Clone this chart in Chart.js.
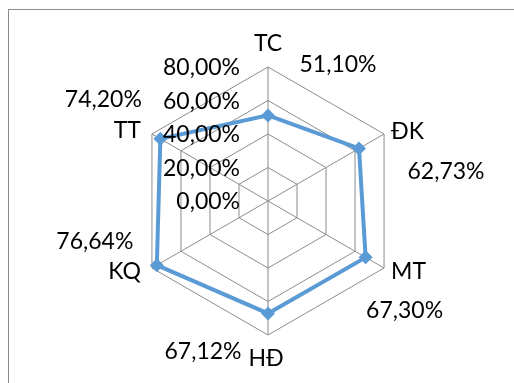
<!DOCTYPE html>
<html>
<head>
<meta charset="utf-8">
<script src="https://cdn.jsdelivr.net/npm/chart.js@4.4.0/dist/chart.umd.min.js"></script>
<style>
  html, body { margin: 0; padding: 0; background: #fff; overflow: hidden; }
  #wrap { position: relative; width: 514px; height: 383px; }
  #frame { position: absolute; left: 8px; top: 9px; width: 520px; height: 400px; border: 1px solid #8c8c8c; box-sizing: border-box; }
  canvas { position: absolute; left: 0; top: 0; }
</style>
</head>
<body>
<div id="wrap">
  <div id="frame"></div>
  <canvas id="chart-radar" width="514" height="383"></canvas>
</div>
<script>
// dữ liệu
const categories = ["TC", "ĐK", "MT", "HĐ", "KQ", "TT"];
const values = [0.5110, 0.6273, 0.6730, 0.6712, 0.7664, 0.7420];
const valueLabels = ["51,10%", "62,73%", "67,30%", "67,12%", "76,64%", "74,20%"];
const tickValues = [0, 0.2, 0.4, 0.6, 0.8];
const tickLabels = ["0,00%", "20,00%", "40,00%", "60,00%", "80,00%"];

// vị trí nhãn (lệch so với điểm / đỉnh)
const valueOffsets = [[70, -51], [87, 23], [39, 53], [-65, 38], [-62, -24], [-57, -39]];
const catOffsets = [[0, -23, "center"], [7, -2, "left"], [7, 4, "left"], [-2, 24, "center"], [-11, 4, "right"], [-11, -3, "right"]];

const FONT = "23px Lato";

const labelPlugin = {
    id: "labels",
    afterDatasetsDraw(chart) {
        const ctx = chart.ctx;
        const scale = chart.scales.r;
        const meta = chart.getDatasetMeta(0);
        ctx.save();
        ctx.font = FONT;
        ctx.fillStyle = "#000";
        ctx.textBaseline = "middle";

        // nhãn trục giá trị
        ctx.textAlign = "right";
        tickValues.forEach((v, i) => {
            const p = scale.getPointPositionForValue(0, v);
            ctx.fillText(tickLabels[i], scale.xCenter - 28, p.y + 1);
        });

        // tên các trục
        categories.forEach((c, i) => {
            const p = scale.getPointPositionForValue(i, scale.max);
            const o = catOffsets[i];
            ctx.textAlign = o[2];
            ctx.fillText(c, p.x + o[0], p.y + o[1]);
        });

        // nhãn dữ liệu
        ctx.textAlign = "center";
        meta.data.forEach((pt, i) => {
            const o = valueOffsets[i];
            ctx.fillText(valueLabels[i], pt.x + o[0], pt.y + o[1]);
        });
        ctx.restore();
    }
};

new Chart(document.getElementById("chart-radar").getContext("2d"), {
    type: "radar",
    data: {
        labels: categories,
        datasets: [{
            data: values,
            borderColor: "#5B9BD5",
            backgroundColor: "#5B9BD5",
            borderWidth: 4,
            fill: false,
            pointStyle: "rectRot",
            pointRadius: 7,
            pointBackgroundColor: "#5B9BD5",
            pointBorderColor: "#5B9BD5",
            pointBorderWidth: 0
        }]
    },
    options: {
        responsive: false,
        animation: false,
        layout: { padding: { left: 134, right: 111, top: 67, bottom: 47 } },
        plugins: { legend: { display: false }, tooltip: { enabled: false } },
        elements: { line: { tension: 0 } },
        scales: {
            r: {
                min: 0,
                max: 0.8,
                ticks: { display: false, stepSize: 0.2 },
                grid: { color: "#8c8c8c", lineWidth: 1 },
                angleLines: { color: "#8c8c8c", lineWidth: 1 },
                pointLabels: { display: false }
            }
        }
    },
    plugins: [labelPlugin]
});
</script>
</body>
</html>
